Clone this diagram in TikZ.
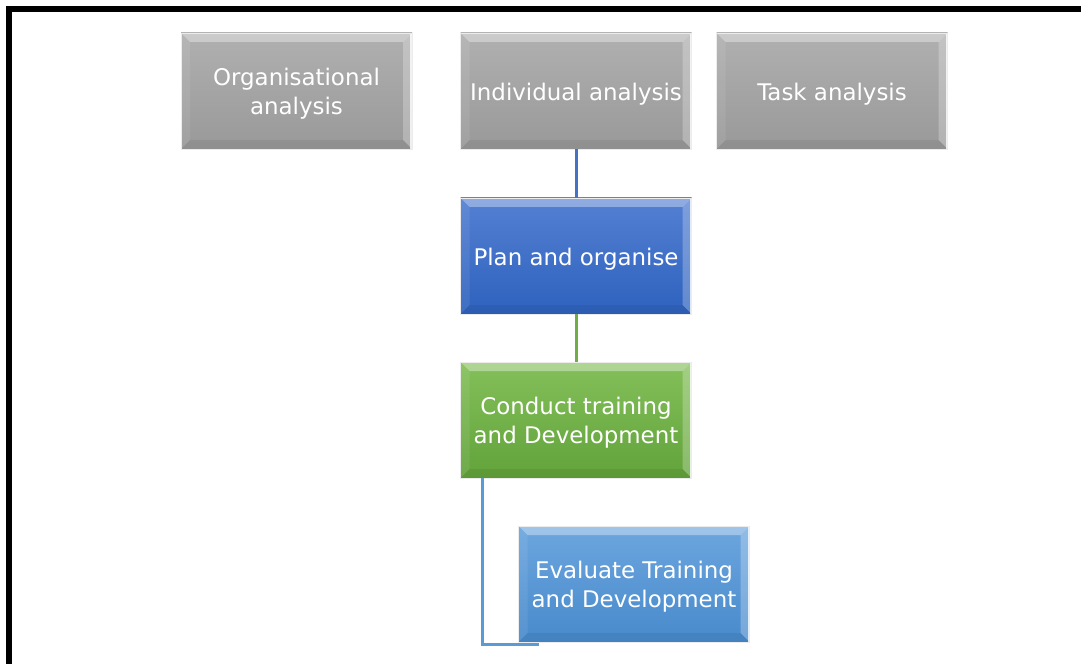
\documentclass[tikz,border=0pt]{standalone}
\usepackage{fontspec}
\setmainfont{DejaVu Sans}
\newcommand{\bxtext}[1]{\raisebox{-3.5bp}[\height][\depth]{\begin{tabular}{@{}c@{}}#1\end{tabular}}}
\begin{document}
\begin{tikzpicture}[x=1bp,y=-1bp,
  bevel/.style={path picture={
    \coordinate (bnw) at (path picture bounding box.north west);
    \coordinate (bne) at (path picture bounding box.north east);
    \coordinate (bsw) at (path picture bounding box.south west);
    \coordinate (bse) at (path picture bounding box.south east);
    \fill[white,opacity=0.35] (bnw) -- (bne) -- ([shift={(-9bp,-9bp)}]bne) -- ([shift={(9bp,-9bp)}]bnw) -- cycle;
    \fill[white,opacity=0.08] (bnw) -- ([shift={(9bp,-9bp)}]bnw) -- ([shift={(9bp,9bp)}]bsw) -- (bsw) -- cycle;
    \fill[white,opacity=0.25] (bne) -- ([shift={(-9bp,-9bp)}]bne) -- ([shift={(-9bp,9bp)}]bse) -- (bse) -- cycle;
    \fill[black,opacity=0.06] (bsw) -- ([shift={(9bp,9bp)}]bsw) -- ([shift={(-9bp,9bp)}]bse) -- (bse) -- cycle;
    \draw[white,opacity=0.8,line width=2bp] ([xshift=-1bp]bne) -- ([xshift=-1bp]bse);
  }},
  box/.style={bevel, draw=white!85!gray, line width=0.8bp, minimum width=231bp, minimum height=116bp,
    inner sep=0pt, outer sep=0pt, align=center, text=white,
    font=\fontsize{23}{29}\selectfont},
  graybox/.style={box, top color=gray!62, bottom color=gray!80},
  bluebox/.style={box, top color={rgb,255:red,84;green,128;blue,210}, bottom color={rgb,255:red,46;green,98;blue,190}},
  greenbox/.style={box, top color={rgb,255:red,132;green,192;blue,90}, bottom color={rgb,255:red,98;green,163;blue,58}},
  lbbox/.style={box, top color={rgb,255:red,108;green,166;blue,222}, bottom color={rgb,255:red,72;green,138;blue,204}},
  conn/.style={line width=3bp}
]
\definecolor{cblue}{RGB}{68,114,196}
\definecolor{cgreen}{RGB}{112,173,71}
\definecolor{clb}{RGB}{91,155,213}
\useasboundingbox (0,0) rectangle (1081,664);
\fill[white] (0,0) rectangle (1081,664);
% frame
\fill[black] (6,6) rectangle (1081,12);
\fill[black] (6,6) rectangle (12,664);
\node[graybox] (org) at (296.5,91) {\bxtext{Organisational\\analysis}};
\node[graybox] (ind) at (576,91) {\bxtext{Individual analysis}};
\node[graybox] (task) at (832,91) {\bxtext{Task analysis}};
\node[bluebox] (plan) at (576,256) {\bxtext{Plan and organise}};
\node[greenbox] (cond) at (576,420) {\bxtext{Conduct training\\and Development}};
\node[lbbox] (eval) at (634,584) {\bxtext{Evaluate Training\\and Development}};
\coordinate (cstart) at ([xshift=22bp]cond.south west);
\coordinate (cend) at (539,644);
\draw[conn, cblue] (ind.south) -- (plan.north);
\draw[conn, cgreen] (plan.south) -- (cond.north);
\draw[conn, clb] (cstart) |- (cend);
\end{tikzpicture}
\end{document}
